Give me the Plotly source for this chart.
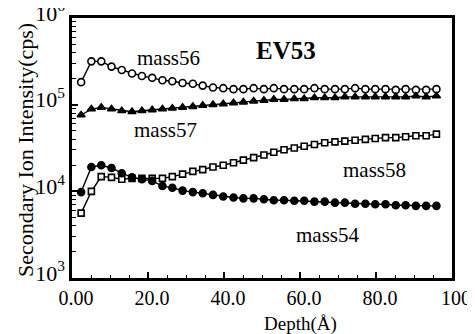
import plotly.graph_objects as go

depth = [2.4, 5.1, 7.7, 10.4, 13.1, 15.8, 18.4, 21.1, 23.8, 26.4, 29.1, 31.8,
         34.4, 37.1, 39.8, 42.5, 45.1, 47.8, 50.5, 53.1, 55.8, 58.5, 61.1, 63.8,
         66.5, 69.2, 71.8, 74.5, 77.2, 79.8, 82.5, 85.2, 87.8, 90.5, 93.2, 95.9]

mass56 = [1.82e5, 3.16e5, 3.16e5, 2.75e5, 2.51e5, 2.29e5, 2.14e5, 2.04e5, 1.91e5, 1.86e5,
          1.78e5, 1.74e5, 1.66e5, 1.58e5, 1.55e5, 1.51e5, 1.51e5, 1.55e5, 1.51e5, 1.55e5,
          1.51e5, 1.51e5, 1.51e5, 1.55e5, 1.51e5, 1.51e5, 1.51e5, 1.55e5, 1.51e5, 1.51e5,
          1.51e5, 1.48e5, 1.51e5, 1.48e5, 1.48e5, 1.51e5]

mass57 = [7.6e4, 8.9e4, 9.3e4, 8.9e4, 8.5e4, 8.3e4, 8.5e4, 8.7e4, 8.9e4, 9.1e4,
          9.3e4, 9.5e4, 9.8e4, 1.00e5, 1.02e5, 1.05e5, 1.07e5, 1.10e5, 1.12e5, 1.15e5,
          1.15e5, 1.17e5, 1.17e5, 1.20e5, 1.20e5, 1.20e5, 1.23e5, 1.23e5, 1.23e5, 1.23e5,
          1.23e5, 1.23e5, 1.23e5, 1.26e5, 1.23e5, 1.26e5]

mass58 = [5.6e3, 1.0e4, 1.48e4, 1.45e4, 1.38e4, 1.41e4, 1.41e4, 1.41e4, 1.41e4, 1.48e4,
          1.58e4, 1.70e4, 1.78e4, 1.91e4, 2.0e4, 2.14e4, 2.29e4, 2.45e4, 2.63e4, 2.82e4,
          3.02e4, 3.16e4, 3.31e4, 3.47e4, 3.63e4, 3.72e4, 3.80e4, 3.89e4, 3.98e4, 4.07e4,
          4.17e4, 4.17e4, 4.27e4, 4.37e4, 4.37e4, 4.57e4]

mass54 = [9.8e3, 1.91e4, 2.0e4, 1.86e4, 1.62e4, 1.45e4, 1.38e4, 1.32e4, 1.15e4, 1.10e4,
          1.02e4, 9.8e3, 9.5e3, 9.1e3, 8.7e3, 8.5e3, 8.3e3, 8.3e3, 8.1e3, 7.9e3,
          7.9e3, 7.8e3, 7.8e3, 7.6e3, 7.6e3, 7.4e3, 7.4e3, 7.2e3, 7.2e3, 7.1e3,
          7.1e3, 6.9e3, 6.9e3, 6.8e3, 6.8e3, 6.8e3]

x_tickvals = [0, 20, 40, 60, 80, 100]
x_ticktext = ["0.00", "20.0", "40.0", "60.0", "80.0", "100"]
y_tickvals = [1e3, 1e4, 1e5, 1e6]
y_ticktext = ["10<sup>3</sup>", "10<sup>4</sup>", "10<sup>5</sup>", "10<sup>6</sup>"]
y_minor = [m * 10 ** e for e in (3, 4, 5) for m in range(2, 10)]

FONT = "Liberation Serif"
fig = go.Figure()

def add(y, symbol, size, fill):
    fig.add_trace(go.Scatter(
        x=depth, y=y, mode="lines+markers",
        line=dict(color="black", width=1.4),
        marker=dict(symbol=symbol, size=size, color=fill,
                    line=dict(color="black", width=1.6)),
        showlegend=False, cliponaxis=False))

add(mass56, "circle", 7, "white")
add(mass57, "triangle-up", 7, "black")
add(mass58, "square", 6, "white")
add(mass54, "circle", 7, "black")

fig.update_layout(
    width=467, height=326,
    margin=dict(l=64, r=23, t=10, b=56, autoexpand=False),
    paper_bgcolor="white", plot_bgcolor="white",
    font=dict(family=FONT, size=20, color="black"),
    xaxis=dict(range=[0, 100], tickvals=x_tickvals, ticktext=x_ticktext,
               ticks="inside", ticklen=6, tickcolor="black", tickwidth=1.5,
               ticklabelshift=4, ticklabeloverflow="allow",
               showline=True, linecolor="black", linewidth=2.5, mirror=True,
               showgrid=False, zeroline=False, automargin=False,
               minor=dict(ticks="inside", ticklen=3, dtick=5, tickcolor="black", tickwidth=1),
               tickfont=dict(family=FONT, size=20)),
    yaxis=dict(type="log", range=[3, 6], tickvals=y_tickvals, ticktext=y_ticktext,
               ticks="inside", ticklen=6, tickcolor="black", tickwidth=1.5,
               ticklabelshift=-5, ticklabeloverflow="allow",
               showline=True, linecolor="black", linewidth=2.5, mirror=True,
               showgrid=False, zeroline=False, automargin=False,
               minor=dict(ticks="inside", ticklen=4, tickvals=y_minor, tickcolor="black", tickwidth=1.2),
               tickfont=dict(family=FONT, size=22)),
)

labels = [("mass56", 25.3, 5.54, False, 21),
          ("EV53", 56.3, 5.63, True, 25),
          ("mass57", 24.7, 4.71, False, 21),
          ("mass58", 79.7, 4.25, False, 21),
          ("mass54", 67.4, 3.50, False, 21)]
for txt, xv, yv, bold, sz in labels:
    fig.add_annotation(x=xv, y=yv, xref="x", yref="y",
                       text=f"<b>{txt}</b>" if bold else txt, showarrow=False,
                       xanchor="center", yanchor="middle",
                       font=dict(family=FONT, size=sz, color="black"))

fig.add_annotation(x=0.6, y=-0.177, xref="paper", yref="paper", text="Depth(Å)",
                   xanchor="center", yanchor="middle",
                   showarrow=False, font=dict(family=FONT, size=19, color="black"))
fig.add_annotation(x=-0.124, y=0.492, xref="paper", yref="paper",
                   text="Secondary Ion Intensity(cps)", textangle=-90,
                   xanchor="center", yanchor="middle",
                   showarrow=False, font=dict(family=FONT, size=22, color="black"))

fig.write_html("out.html")
